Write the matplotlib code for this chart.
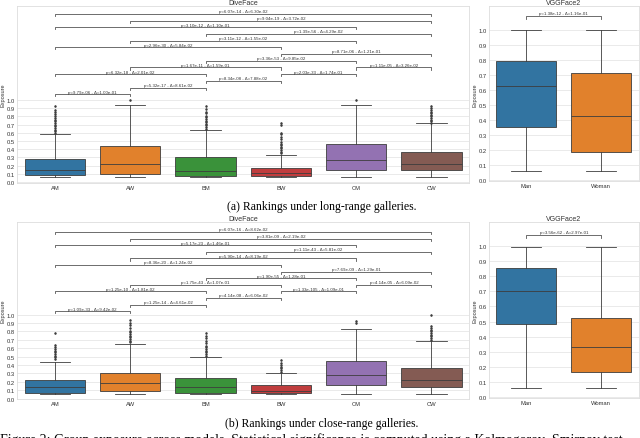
import matplotlib
matplotlib.use("Agg")
import matplotlib.pyplot as plt

plt.rcParams['font.family'] = ['Liberation Sans', 'DejaVu Sans']

# ---- data ----
groups = ['AM', 'AW', 'BM', 'BW', 'CM', 'CW']
genders = ['Man', 'Woman']
palette = ['#3274a1', '#e1812c', '#3a923a', '#c03d3e', '#9372b2', '#845b53']

# (a) long-range galleries, DiveFace: whislo, q1, med, q3, whishi
long_q1 = [0.085, 0.10, 0.078, 0.075, 0.145, 0.15]
long_med = [0.15, 0.22, 0.14, 0.105, 0.275, 0.22]
long_q3 = [0.28, 0.435, 0.30, 0.175, 0.465, 0.365]
long_lo = [0.065, 0.065, 0.065, 0.065, 0.065, 0.065]
long_hi = [0.58, 0.935, 0.63, 0.33, 0.935, 0.715]
long_fliers = [
    [0.60, 0.62, 0.64, 0.66, 0.68, 0.70, 0.72, 0.74, 0.76, 0.78, 0.80, 0.83, 0.85, 0.88, 0.925],
    [1.0],
    [0.65, 0.67, 0.69, 0.71, 0.73, 0.75, 0.77, 0.79, 0.81, 0.84, 0.86, 0.89, 0.93],
    [0.35, 0.37, 0.39, 0.41, 0.43, 0.45, 0.47, 0.49, 0.52, 0.55, 0.58, 0.60, 0.70, 0.72],
    [1.0],
    [0.72, 0.74, 0.76, 0.78, 0.80, 0.82, 0.84, 0.86, 0.88, 0.90, 0.93],
]

# (b) close-range galleries, DiveFace
close_q1 = [0.07, 0.095, 0.07, 0.065, 0.16, 0.135]
close_med = [0.14, 0.19, 0.14, 0.09, 0.285, 0.225]
close_q3 = [0.22, 0.31, 0.24, 0.16, 0.445, 0.36]
close_lo = [0.055, 0.055, 0.055, 0.055, 0.055, 0.055]
close_hi = [0.43, 0.65, 0.50, 0.31, 0.83, 0.69]
close_fliers = [
    [0.47, 0.49, 0.51, 0.53, 0.55, 0.57, 0.59, 0.61, 0.64, 0.78],
    [0.67, 0.69, 0.71, 0.73, 0.75, 0.77, 0.79, 0.81, 0.84, 0.87, 0.90, 0.935],
    [0.51, 0.53, 0.55, 0.57, 0.59, 0.61, 0.63, 0.66, 0.69, 0.72, 0.75, 0.78],
    [0.32, 0.34, 0.36, 0.38, 0.40, 0.42, 0.455],
    [0.90, 0.92],
    [0.70, 0.72, 0.74, 0.76, 0.78, 0.80, 0.82, 0.84, 0.86, 1.0],
]

# VGGFace2
vgg_long = dict(lo=[0.065, 0.065], q1=[0.355, 0.19], med=[0.625, 0.43], q3=[0.79, 0.715], hi=[1.0, 1.0])
vgg_close = dict(lo=[0.06, 0.06], q1=[0.485, 0.165], med=[0.70, 0.33], q3=[0.856, 0.52], hi=[0.99, 0.99])

# significance annotations: (group i, group j, stack level, text)
long_pairs = [
    (0, 1, 0, 'p=9.79e-06 - Δ=1.00e-01'),
    (1, 2, 1, 'p=5.32e-17 - Δ=8.61e-02'),
    (2, 3, 2, 'p=8.34e-08 - Δ=7.88e-02'),
    (0, 2, 3, 'p=6.32e-18 - Δ=2.01e-02'),
    (3, 4, 3, 'p=2.03e-33 - Δ=1.74e-01'),
    (1, 3, 4, 'p=1.67e-11 - Δ=1.59e-01'),
    (4, 5, 4, 'p=1.11e-05 - Δ=3.26e-02'),
    (2, 4, 5, 'p=3.36e-53 - Δ=9.85e-02'),
    (3, 5, 6, 'p=8.71e-06 - Δ=1.21e-01'),
    (0, 3, 7, 'p=2.96e-30 - Δ=5.84e-02'),
    (1, 4, 8, 'p=3.11e-12 - Δ=1.55e-02'),
    (2, 5, 9, 'p=1.39e-56 - Δ=4.29e-02'),
    (0, 4, 10, 'p=3.10e-12 - Δ=1.10e-01'),
    (1, 5, 11, 'p=9.04e-19 - Δ=3.72e-02'),
    (0, 5, 12, 'p=6.07e-14 - Δ=6.30e-02'),
]
close_pairs = [
    (0, 1, 0, 'p=1.09e-33 - Δ=9.42e-02'),
    (1, 2, 1, 'p=1.25e-14 - Δ=4.61e-02'),
    (2, 3, 2, 'p=4.14e-08 - Δ=6.06e-02'),
    (0, 2, 3, 'p=1.25e-10 - Δ=1.81e-02'),
    (3, 4, 3, 'p=1.33e-105 - Δ=1.09e-01'),
    (1, 3, 4, 'p=1.75e-43 - Δ=1.07e-01'),
    (4, 5, 4, 'p=4.14e-05 - Δ=6.09e-02'),
    (2, 4, 5, 'p=1.90e-55 - Δ=1.28e-01'),
    (3, 5, 6, 'p=7.69e-09 - Δ=1.29e-01'),
    (0, 3, 7, 'p=8.36e-20 - Δ=1.24e-02'),
    (1, 4, 8, 'p=5.90e-14 - Δ=8.19e-02'),
    (2, 5, 9, 'p=1.11e-43 - Δ=5.81e-02'),
    (0, 4, 10, 'p=5.17e-23 - Δ=1.46e-01'),
    (1, 5, 11, 'p=3.81e-09 - Δ=2.19e-02'),
    (0, 5, 12, 'p=6.07e-16 - Δ=8.62e-02'),
]
vgg_long_text = 'p=1.38e-12 - Δ=1.16e-01'
vgg_close_text = 'p=3.56e-62 - Δ=2.97e-01'

LINE = '#3d3d3d'


def style(ax, title, labels):
    ax.set_facecolor('white')
    for s in ax.spines.values():
        s.set_color('#dddddd')
        s.set_linewidth(0.6)
    ax.yaxis.grid(True, color='#e6e6e6', linewidth=0.6)
    ax.xaxis.grid(False)
    ax.set_axisbelow(True)
    ax.tick_params(length=0, labelsize=4.2, pad=1.5, colors='#333333')
    ax.set_xticks(range(len(labels)))
    ax.set_xticklabels(labels)
    ax.set_xlim(-0.5, len(labels) - 0.5)
    ax.set_yticks([i / 10 for i in range(11)])
    ax.set_yticklabels(['%.1f' % (i / 10) for i in range(11)])
    ax.set_ylabel('Exposure', fontsize=4, labelpad=1, color='#333333')
    ax.set_title(title, fontsize=5, pad=1.5, color='#333333')


def boxes(ax, lo, q1, med, q3, hi, fliers, colors):
    stats = []
    for k in range(len(q1)):
        stats.append(dict(whislo=lo[k], q1=q1[k], med=med[k], q3=q3[k], whishi=hi[k],
                          fliers=fliers[k] if fliers else []))
    bp = ax.bxp(stats, positions=range(len(q1)), widths=0.8, patch_artist=True,
                showfliers=True, manage_ticks=False,
                boxprops=dict(edgecolor=LINE, linewidth=0.6),
                whiskerprops=dict(color=LINE, linewidth=0.6),
                capprops=dict(color=LINE, linewidth=0.6),
                medianprops=dict(color=LINE, linewidth=0.6),
                flierprops=dict(marker='d', markersize=0.9, markerfacecolor=LINE,
                                markeredgecolor=LINE, linestyle='none'))
    for patch, c in zip(bp['boxes'], colors):
        patch.set_facecolor(c)


def brackets(ax, pairs, base, step, tip):
    for i, j, lev, txt in pairs:
        y = base + lev * step
        ax.plot([i, i, j, j], [y - tip, y, y, y - tip], color='#555555', lw=0.6)
        ax.text((i + j) / 2, y + tip * 0.3, txt, ha='center', va='bottom',
                fontsize=3.2, color='#333333')


fig = plt.figure(figsize=(6.4, 4.39), dpi=100)

# (a) row
ax1 = fig.add_axes([0.027, 0.582, 0.706, 0.401])
boxes(ax1, long_lo, long_q1, long_med, long_q3, long_hi, long_fliers, palette)
style(ax1, 'DiveFace', groups)
brackets(ax1, long_pairs, 1.07, 0.0817, 0.025)
ax1.set_ylim(-0.005, 2.14)

ax2 = fig.add_axes([0.764, 0.585, 0.234, 0.398])
boxes(ax2, vgg_long['lo'], vgg_long['q1'], vgg_long['med'], vgg_long['q3'], vgg_long['hi'], None, palette[:2])
style(ax2, 'VGGFace2', genders)
brackets(ax2, [(0, 1, 0, vgg_long_text)], 1.09, 0, 0.018)
ax2.set_ylim(-0.005, 1.155)

# (b) row
ax3 = fig.add_axes([0.027, 0.0888, 0.706, 0.403])
boxes(ax3, close_lo, close_q1, close_med, close_q3, close_hi, close_fliers, palette)
style(ax3, 'DiveFace', groups)
brackets(ax3, close_pairs, 1.04, 0.0785, 0.025)
ax3.set_ylim(-0.005, 2.1)

ax4 = fig.add_axes([0.764, 0.0911, 0.234, 0.401])
boxes(ax4, vgg_close['lo'], vgg_close['q1'], vgg_close['med'], vgg_close['q3'], vgg_close['hi'], None, palette[:2])
style(ax4, 'VGGFace2', genders)
brackets(ax4, [(0, 1, 0, vgg_close_text)], 1.07, 0, 0.018)
ax4.set_ylim(-0.005, 1.157)

serif = ['Liberation Serif', 'DejaVu Serif']
fig.text(0.502, 0.528, '(a) Rankings under long-range galleries.', ha='center', va='center',
         fontsize=8.5, family=serif)
fig.text(0.502, 0.034, '(b) Rankings under close-range galleries.', ha='center', va='center',
         fontsize=8.5, family=serif)
fig.text(0.0, 0.013, 'Figure 2: Group exposure across models. Statistical significance is computed using a Kolmogorov–Smirnov test',
         ha='left', va='top', fontsize=10, family=serif)

fig.savefig('out.png', dpi=100)
